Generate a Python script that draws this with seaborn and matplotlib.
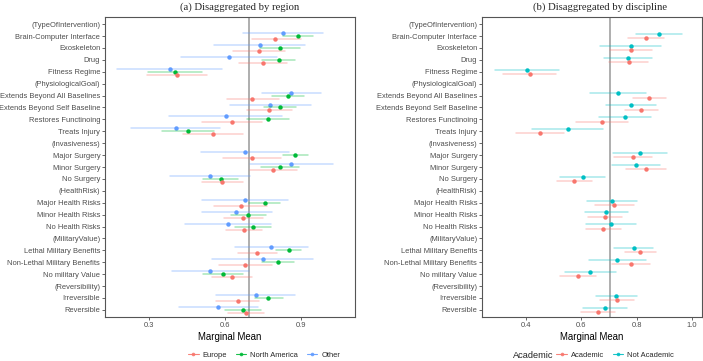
import pandas as pd
import seaborn as sns
from matplotlib import pyplot as plt
from matplotlib.lines import Line2D

rows = ['(TypeOfIntervention)', 'Brain-Computer Interface', 'Exoskeleton', 'Drug', 'Fitness Regime',
        '(PhysiologicalGoal)', 'Extends Beyond All Baselines', 'Extends Beyond Self Baseline',
        'Restores Functinoing', 'Treats Injury',
        '(Invasiveness)', 'Major Surgery', 'Minor Surgery', 'No Surgery',
        '(HealthRisk)', 'Major Health Risks', 'Minor Health Risks', 'No Health Risks',
        '(MilitaryValue)', 'Lethal Military Benefits', 'Non-Lethal Military Benefits', 'No military Value',
        '(Reversibility)', 'Irreversible', 'Reversible']
levels = [r for r in rows if not r.startswith('(')]

# (a) by region: mean, lower, upper
europe_mean = [.799, .735, .749, .411, .708, .775, .629, .554, .706, .790, .589, .661, .670, .675, .728, .679, .626, .650, .684]
europe_lo = [.706, .633, .655, .293, .608, .688, .510, .435, .591, .698, .510, .556, .596, .605, .650, .576, .547, .566, .613]
europe_hi = [.899, .836, .843, .527, .811, .864, .745, .670, .820, .884, .669, .765, .748, .745, .806, .785, .706, .735, .754]

na_mean = [.886, .818, .811, .401, .848, .818, .769, .455, .877, .818, .583, .756, .692, .711, .851, .808, .592, .771, .671]
na_lo = [.827, .739, .745, .295, .785, .754, .686, .352, .830, .741, .513, .695, .625, .640, .803, .744, .513, .719, .600]
na_hi = [.946, .897, .877, .508, .913, .880, .851, .558, .926, .893, .653, .816, .761, .781, .899, .872, .669, .827, .741]

other_mean = [.827, .736, .616, .381, .861, .778, .603, .405, .679, .861, .541, .679, .645, .612, .782, .748, .539, .721, .574]
other_lo = [.669, .556, .428, .174, .744, .618, .378, .229, .506, .698, .381, .510, .510, .442, .640, .547, .389, .566, .418]
other_hi = [.985, .917, .804, .587, .979, .939, .824, .580, .851, 1.025, .699, .849, .785, .781, .926, .946, .695, .877, .732]

# (b) by discipline
acad_mean = [.833, .780, .771, .413, .846, .817, .676, .449, .788, .834, .575, .717, .686, .680, .811, .780, .587, .729, .659]
acad_lo = [.769, .705, .699, .317, .786, .759, .582, .365, .719, .763, .512, .648, .624, .618, .756, .711, .522, .669, .599]
acad_hi = [.900, .856, .841, .510, .906, .876, .769, .536, .857, .906, .637, .789, .747, .744, .868, .847, .653, .789, .721]

nonacad_mean = [.880, .779, .768, .403, .731, .780, .758, .551, .811, .797, .605, .712, .690, .707, .789, .729, .633, .727, .684]
nonacad_lo = [.799, .669, .681, .289, .630, .689, .665, .423, .715, .711, .524, .621, .612, .618, .717, .627, .542, .653, .605]
nonacad_hi = [.962, .888, .856, .518, .834, .870, .852, .677, .908, .883, .687, .801, .769, .798, .859, .832, .725, .801, .765]

region_colors = {'Europe': '#F8766D', 'North America': '#00BA38', 'Other': '#619CFF'}
disc_colors = {'Academic': '#F8766D', 'Not Academic': '#00BFC4'}


def long_df(series):
    # three rows per estimate (lo, mean, hi) -> median gives the mean, 100% interval gives the CI
    recs = []
    for name, (m, lo, hi) in series.items():
        for lev, a, b, c in zip(levels, lo, m, hi):
            for v in (a, b, c):
                recs.append({'level': lev, 'group': name, 'value': v})
    return pd.DataFrame(recs)


df_a = long_df({'Europe': (europe_mean, europe_lo, europe_hi),
                'North America': (na_mean, na_lo, na_hi),
                'Other': (other_mean, other_lo, other_hi)})
df_b = long_df({'Academic': (acad_mean, acad_lo, acad_hi),
                'Not Academic': (nonacad_mean, nonacad_lo, nonacad_hi)})

sns.set_theme(style='white')
plt.rcParams['font.family'] = ['Liberation Sans', 'DejaVu Sans']

fig = plt.figure(figsize=(7.03, 3.61), dpi=100)
ax1 = fig.add_axes([105 / 703, 44 / 361, 250 / 703, 300 / 361])
ax2 = fig.add_axes([482 / 703, 44 / 361, 220 / 703, 300 / 361])

panels = [
    (ax1, df_a, ['Other', 'North America', 'Europe'], region_colors, 0.5, 0.695, (0.126, 1.113), [0.3, 0.6, 0.9]),
    (ax2, df_b, ['Not Academic', 'Academic'], disc_colors, 0.36, 0.702, (0.241, 1.036), [0.4, 0.6, 0.8, 1.0]),
]

for ax, d, hue_order, pal, dodge, vline, xlim, xticks in panels:
    ax.axvline(vline, color='#A8A8A8', lw=1.3, zorder=0)
    sns.pointplot(data=d, x='value', y='level', hue='group', order=rows, hue_order=hue_order,
                  palette=pal, estimator='median', errorbar=('pi', 100), dodge=dodge,
                  linestyle='none', markers='o', markersize=3.2, markeredgewidth=0,
                  err_kws={'alpha': 0.35, 'linewidth': 1.1}, legend=False, ax=ax)
    ax.set_xlim(*xlim)
    ax.set_ylim(len(rows) - 0.4, -0.6)
    ax.set_xticks(xticks)
    ax.set_xticklabels([f'{t:.1f}' for t in xticks])
    ax.set_xlabel('Marginal Mean', fontsize=6.9, color='black', labelpad=2)
    ax.set_ylabel('')
    ax.tick_params(axis='both', labelsize=5.4, labelcolor='#4D4D4D', colors='#4D4D4D',
                   length=2, width=0.6, pad=1.5, left=True, bottom=True)
    for s in ax.spines.values():
        s.set_color('#555555')
        s.set_linewidth(0.8)

fig.text(240 / 703, 1 - 7 / 361, '(a) Disaggregated by region', ha='center', va='center',
         fontsize=7.7, family='Liberation Serif')
fig.text(600 / 703, 1 - 7 / 361, '(b) Disaggregated by discipline', ha='center', va='center',
         fontsize=7.7, family='Liberation Serif')


def handles(names, pal):
    return [Line2D([0], [0], color=pal[n], marker='o', markersize=2.6, markeredgewidth=0, lw=0.8, alpha=0.9)
            for n in names]


names_a = ['Europe', 'North America', 'Other']
fig.legend(handles(names_a, region_colors), names_a, loc='center', bbox_to_anchor=(264 / 703, 1 - 355 / 361),
           ncol=3, frameon=False, fontsize=5.4, handlelength=1.4, handletextpad=0.5, columnspacing=1.2)
names_b = ['Academic', 'Not Academic']
fig.legend(handles(names_b, disc_colors), names_b, loc='center', bbox_to_anchor=(615 / 703, 1 - 355 / 361),
           ncol=2, frameon=False, fontsize=5.4, handlelength=1.4, handletextpad=0.5, columnspacing=1.2)
fig.text(513 / 703, 1 - 355 / 361, 'Academic', ha='left', va='center', fontsize=6.7)

fig.savefig('out.png', dpi=100, facecolor='white')
